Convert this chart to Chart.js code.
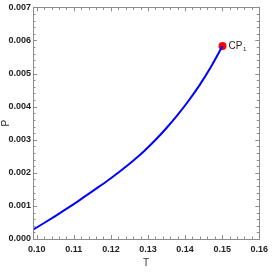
<!DOCTYPE html>
<html><head><meta charset="utf-8">
<script src="https://cdn.jsdelivr.net/npm/chart.js@4"></script>
<style>html,body{margin:0;padding:0;background:#fff}#wrap{width:273px;height:273px}</style>
</head><body><div id="wrap"><canvas id="c" width="273" height="273"></canvas></div>
<script>
const T = [0.099, 0.102, 0.105, 0.108, 0.111, 0.114, 0.117, 0.120, 0.123, 0.126, 0.129, 0.132, 0.135, 0.138, 0.141, 0.144, 0.147, 0.1501];
const P = [0.00028, 0.000484, 0.000694, 0.000910, 0.001132, 0.001363, 0.001597, 0.001837, 0.002092, 0.002365, 0.002662, 0.002992, 0.003355, 0.003751, 0.004186, 0.004666, 0.005206, 0.00583];
const cpT = [0.1501];
const cpP = [0.00583];
const cpLabel = ["CP", "1"];
const xTicks = [0.10, 0.11, 0.12, 0.13, 0.14, 0.15, 0.16];
const yTicks = [0.000, 0.001, 0.002, 0.003, 0.004, 0.005, 0.006, 0.007];
const xMinorStep = 0.002, yMinorStep = 0.0002;

const FONT = "'Liberation Sans Narrow', 'Arial Narrow', 'Liberation Sans', sans-serif";

const framePlugin = {
  id: 'frame',
  afterDatasetsDraw(chart) {
    const {ctx, chartArea: a, scales: {x, y}} = chart;
    ctx.save();
    ctx.strokeStyle = '#8c8c8c';
    ctx.lineWidth = 1;
    ctx.strokeRect(Math.round(a.left) + 0.5, Math.round(a.top) + 0.5, Math.round(a.right - a.left), Math.round(a.bottom - a.top));
    ctx.beginPath();
    const maj = 4, mnr = 2.5;
    for (let i = 0; i <= 35; i++) {
      const v = 0.096 + i * xMinorStep;
      if (v < x.min - 1e-9 || v > x.max + 1e-9) continue;
      const major = xTicks.some(t => Math.abs(t - v) < 1e-9);
      const px = Math.round(x.getPixelForValue(v)) + 0.5;
      const len = major ? maj : mnr;
      ctx.moveTo(px, a.bottom); ctx.lineTo(px, a.bottom - len);
      ctx.moveTo(px, a.top); ctx.lineTo(px, a.top + len);
    }
    for (let i = 0; i <= 35; i++) {
      const v = i * yMinorStep;
      if (v < y.min - 1e-12 || v > y.max + 1e-12) continue;
      const major = yTicks.some(t => Math.abs(t - v) < 1e-9);
      const py = Math.round(y.getPixelForValue(v)) + 0.5;
      const len = major ? maj : mnr;
      ctx.moveTo(a.left, py); ctx.lineTo(a.left + len, py);
      ctx.moveTo(a.right, py); ctx.lineTo(a.right - len, py);
    }
    ctx.stroke();
    const px = x.getPixelForValue(cpT[0]), py = y.getPixelForValue(cpP[0]);
    ctx.fillStyle = '#222';
    ctx.font = "10px " + FONT;
    ctx.textBaseline = 'middle';
    ctx.textAlign = 'left';
    ctx.fillText(cpLabel[0], px + 6, py);
    const w = ctx.measureText(cpLabel[0]).width;
    ctx.font = "6px " + FONT;
    ctx.fillText(cpLabel[1], px + 6 + w + 0.5, py + 3);
    ctx.restore();
  }
};

new Chart(document.getElementById('c'), {
  type: 'scatter',
  data: {
    datasets: [
      { data: T.map((t, i) => ({x: t, y: P[i]})), showLine: true, borderColor: '#0000ff', borderWidth: 2, pointRadius: 0, cubicInterpolationMode: 'monotone' },
      { data: cpT.map((t, i) => ({x: t, y: cpP[i]})), pointRadius: 4, pointBackgroundColor: '#ff0000', pointBorderWidth: 0, borderColor: '#ff0000' }
    ]
  },
  options: {
    responsive: false, animation: false, events: [],
    layout: { padding: { top: 6, right: 7, left: 0, bottom: 0 } },
    plugins: { legend: { display: false }, tooltip: { enabled: false } },
    scales: {
      x: {
        type: 'linear', min: 0.099, max: 0.16,
        grid: { display: false, drawTicks: false },
        border: { display: false },
        afterBuildTicks: s => { s.ticks = xTicks.map(v => ({value: v})); },
        afterFit: s => { s.height = 34; },
        ticks: { padding: 5, color: '#222', font: { family: FONT, size: 9, weight: 'bold' }, maxRotation: 0, callback: v => Number(v).toFixed(2) },
        title: { display: true, text: 'T', color: '#333', font: { family: FONT, size: 10 }, padding: { top: 0, bottom: 4 } }
      },
      y: {
        type: 'linear', min: 0, max: 0.007,
        grid: { display: false, drawTicks: false },
        border: { display: false },
        afterBuildTicks: s => { s.ticks = yTicks.map(v => ({value: v})); },
        afterFit: s => { s.width = 33; },
        ticks: { padding: 2, color: '#222', font: { family: FONT, size: 9, weight: 'bold' }, callback: v => Number(v).toFixed(3) },
        title: { display: true, text: 'P', color: '#333', font: { family: FONT, size: 10 }, padding: 0 }
      }
    }
  },
  plugins: [framePlugin]
});
</script></body></html>
